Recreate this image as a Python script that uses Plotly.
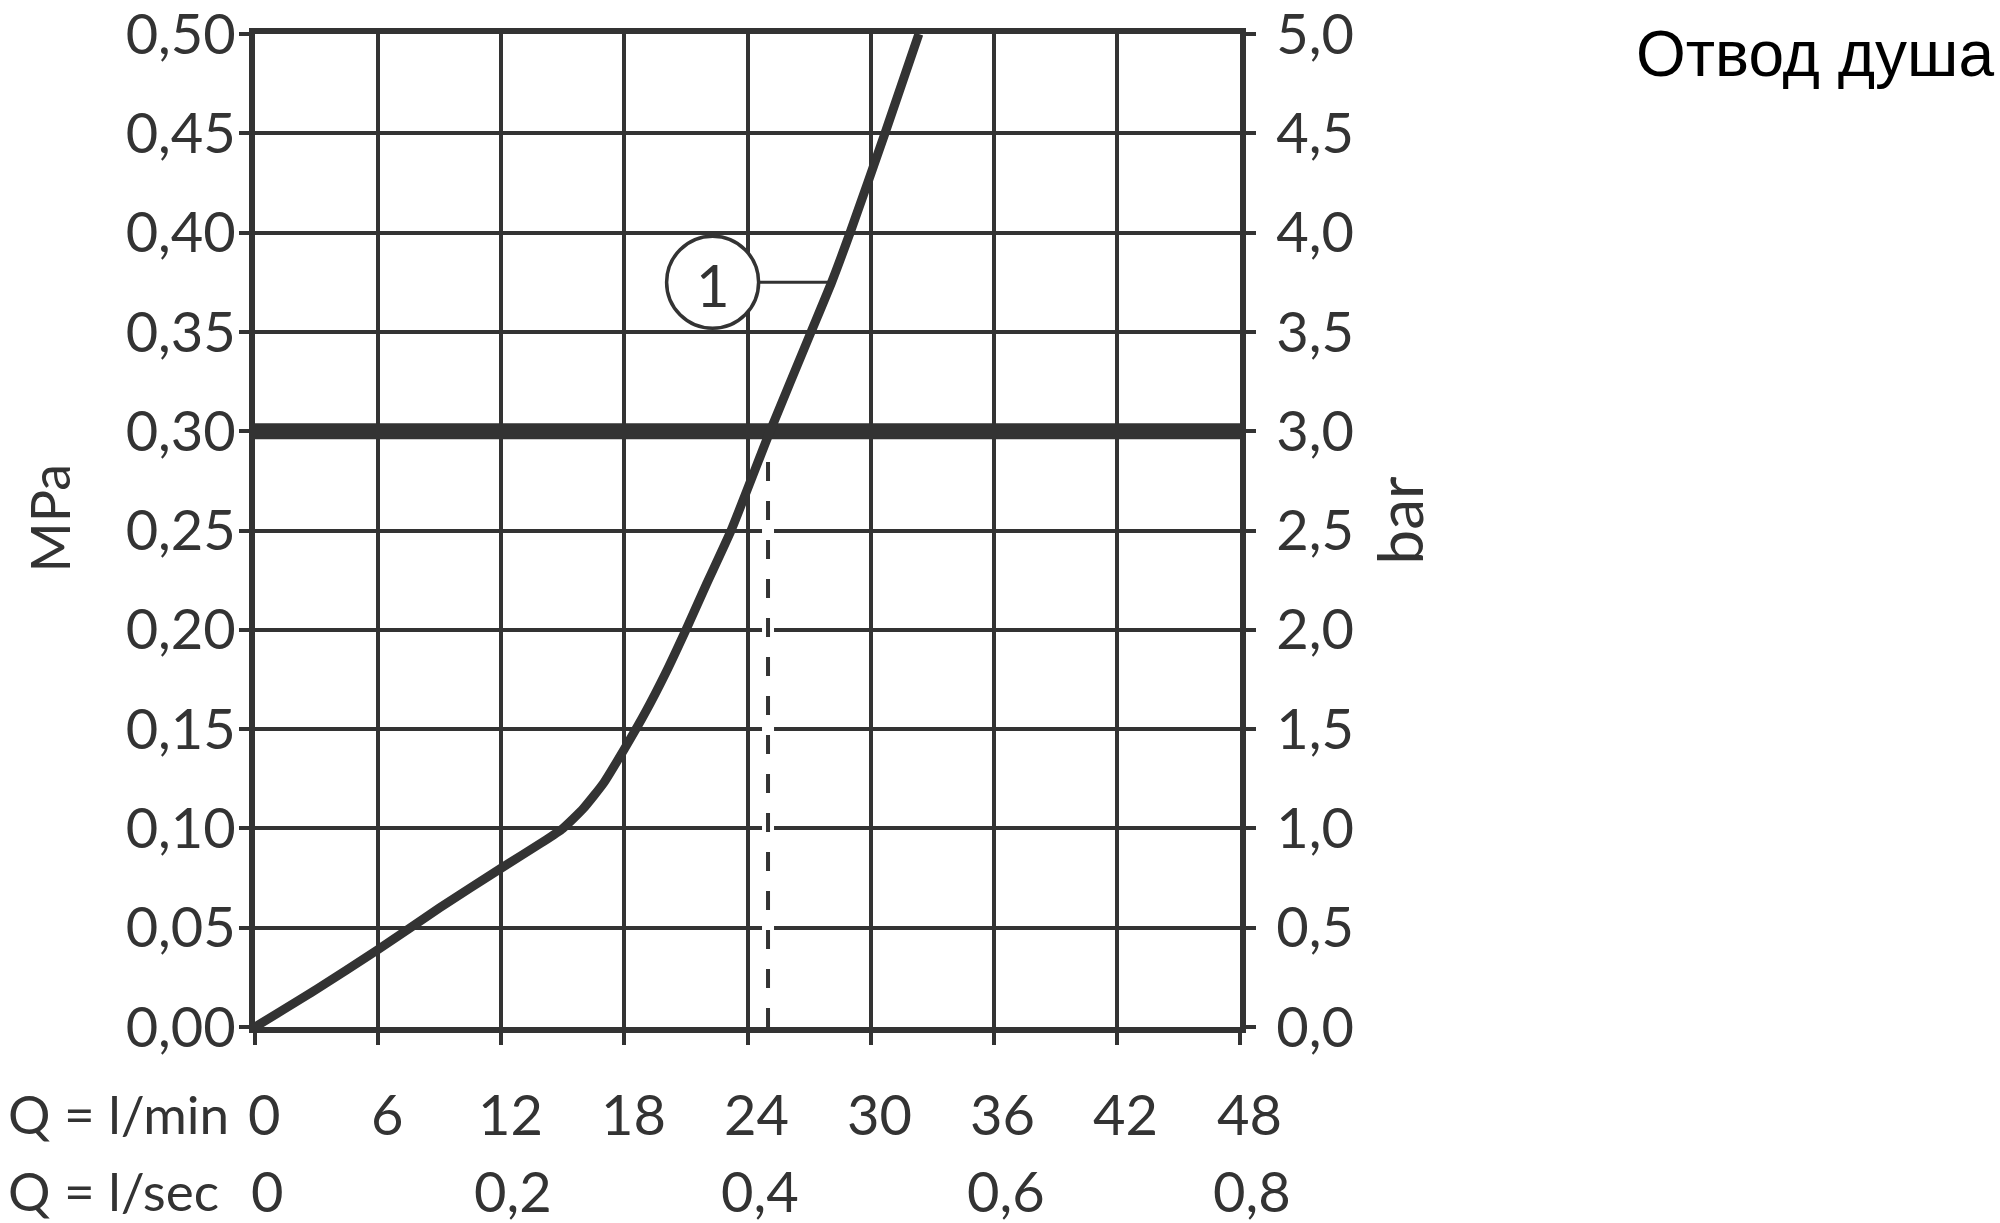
import plotly.graph_objects as go

# ---- data ----
flow_lpm = [0, 3, 6, 9, 12, 14, 15, 16, 17, 18, 19, 20, 21, 22, 23.2, 25.1, 27.1, 28.1, 29.0, 30.7, 32.35]
pressure_mpa = [0, 0.019, 0.039, 0.060, 0.080, 0.093, 0.100, 0.110, 0.123, 0.140, 0.158, 0.178,
                0.200, 0.223, 0.250, 0.300, 0.350, 0.375, 0.400, 0.450, 0.500]

lpm_ticks = [0, 6, 12, 18, 24, 30, 36, 42, 48]
lps_ticks = [0, 0.2, 0.4, 0.6, 0.8]
mpa_ticks = [0, 0.05, 0.10, 0.15, 0.20, 0.25, 0.30, 0.35, 0.40, 0.45, 0.50]
bar_ticks = [0, 0.5, 1.0, 1.5, 2.0, 2.5, 3.0, 3.5, 4.0, 4.5, 5.0]

ref_pressure_mpa = 0.30
ref_flow_lpm = 25.0
label_flow_lpm = 22.3
label_pressure_mpa = 0.375
leader_end_lpm = 27.95
curve_label = "1"
title_text = "Отвод душа"

INK = "#333333"
FONT = "Lato, 'DejaVu Sans', sans-serif"
FS = 56

fig = go.Figure()

# dashed reference drop line (white halo + dashes)
fig.add_trace(go.Scatter(x=[ref_flow_lpm, ref_flow_lpm], y=[0, ref_pressure_mpa], mode="lines",
                         line=dict(color="white", width=12), hoverinfo="skip", showlegend=False))
fig.add_trace(go.Scatter(x=[ref_flow_lpm, ref_flow_lpm], y=[0, ref_pressure_mpa - 0.004], mode="lines",
                         line=dict(color=INK, width=4, dash="19px,20px"), hoverinfo="skip", showlegend=False))

# thick 0.30 MPa reference line
fig.add_trace(go.Scatter(x=[lpm_ticks[0], lpm_ticks[-1]], y=[ref_pressure_mpa, ref_pressure_mpa], mode="lines",
                         line=dict(color=INK, width=16), hoverinfo="skip", showlegend=False))

# characteristic curve
fig.add_trace(go.Scatter(x=flow_lpm, y=pressure_mpa, mode="lines",
                         line=dict(color=INK, width=9, shape="spline", smoothing=0.5),
                         hoverinfo="skip", showlegend=False))

# leader line from the label circle to the curve
fig.add_trace(go.Scatter(x=[label_flow_lpm, leader_end_lpm], y=[label_pressure_mpa, label_pressure_mpa],
                         mode="lines", line=dict(color=INK, width=3), hoverinfo="skip", showlegend=False))

# invisible trace to activate the right (bar) axis
fig.add_trace(go.Scatter(x=[0], y=[0], yaxis="y2", mode="markers", marker=dict(opacity=0),
                         hoverinfo="skip", showlegend=False))

# label circle
fig.add_shape(type="circle", xref="x", yref="y", xsizemode="pixel", ysizemode="pixel",
              xanchor=label_flow_lpm, yanchor=label_pressure_mpa,
              x0=-46, x1=46, y0=-46, y1=46,
              line=dict(color=INK, width=3.5), fillcolor="white", layer="above")

annotations = [
    dict(x=label_flow_lpm, y=label_pressure_mpa, xref="x", yref="y", text=curve_label, showarrow=False,
         font=dict(family=FONT, size=58, color=INK), xanchor="center", yanchor="middle", yshift=-2),
    dict(x=1.0, y=1.0, xref="paper", yref="paper", text=title_text, showarrow=False,
         font=dict(family="Liberation Sans, Arial, sans-serif", size=64, color="black"),
         xanchor="left", yanchor="middle", xshift=394, yshift=-20),
    dict(x=0, y=0.5, xref="paper", yref="paper", text="MPa", textangle=-90, showarrow=False,
         font=dict(family=FONT, size=54, color=INK), xanchor="center", yanchor="middle",
         xshift=-206, yshift=12),
    dict(x=1, y=0.5, xref="paper", yref="paper", text="bar", textangle=-90, showarrow=False,
         font=dict(family=FONT, size=62, color=INK), xanchor="center", yanchor="middle",
         xshift=158, yshift=10),
    dict(x=0, y=0, xref="paper", yref="paper", text="Q = l/min", showarrow=False,
         font=dict(family=FONT, size=53, color=INK), xanchor="right", yanchor="middle",
         xshift=-24, yshift=-86),
    dict(x=0, y=0, xref="paper", yref="paper", text="Q = l/sec", showarrow=False,
         font=dict(family=FONT, size=53, color=INK), xanchor="right", yanchor="middle",
         xshift=-34, yshift=-163),
]
for v in lpm_ticks:
    annotations.append(dict(x=v, y=0, xref="x", yref="paper", text=f"{v:d}", showarrow=False,
                            font=dict(family=FONT, size=FS, color=INK), xanchor="center",
                            yanchor="middle", xshift=9, yshift=-86))
for v in lps_ticks:
    annotations.append(dict(x=v * 60, y=0, xref="x", yref="paper",
                            text=("0" if v == 0 else f"{v:.1f}".replace(".", ",")), showarrow=False,
                            font=dict(family=FONT, size=FS, color=INK), xanchor="center",
                            yanchor="middle", xshift=12, yshift=-163))

fig.update_layout(
    width=2000, height=1223,
    margin=dict(l=255, r=760, t=34, b=196, pad=0, autoexpand=False),
    paper_bgcolor="white", plot_bgcolor="white",
    separators=", ",
    showlegend=False,
    annotations=annotations,
    xaxis=dict(range=[lpm_ticks[0], lpm_ticks[-1]], tickvals=lpm_ticks, showticklabels=False,
               showgrid=True, gridcolor=INK, gridwidth=4, zeroline=False, automargin=False,
               showline=True, linecolor=INK, linewidth=6, mirror=True,
               ticks="outside", ticklen=12, tickwidth=4, tickcolor=INK, fixedrange=True),
    yaxis=dict(range=[mpa_ticks[0], mpa_ticks[-1]], tickvals=mpa_ticks, tickformat=".2f",
               showgrid=True, gridcolor=INK, gridwidth=4, zeroline=False, automargin=False,
               showline=True, linecolor=INK, linewidth=6,
               ticks="outside", ticklen=10, tickwidth=4, tickcolor=INK, ticklabeloverflow="allow",
               tickfont=dict(family=FONT, size=FS, color=INK), ticklabelstandoff=-8, fixedrange=True),
    yaxis2=dict(range=[bar_ticks[0], bar_ticks[-1]], tickvals=bar_ticks, tickformat=".1f",
                overlaying="y", side="right", showgrid=False, zeroline=False, automargin=False,
                showline=True, linecolor=INK, linewidth=6,
                ticks="outside", ticklen=10, tickwidth=4, tickcolor=INK, ticklabeloverflow="allow",
                tickfont=dict(family=FONT, size=FS, color=INK), ticklabelstandoff=9, fixedrange=True),
)

fig.write_html("out.html", config={"displayModeBar": False},
               post_script="document.body.style.margin='0';document.body.style.overflow='hidden';")
